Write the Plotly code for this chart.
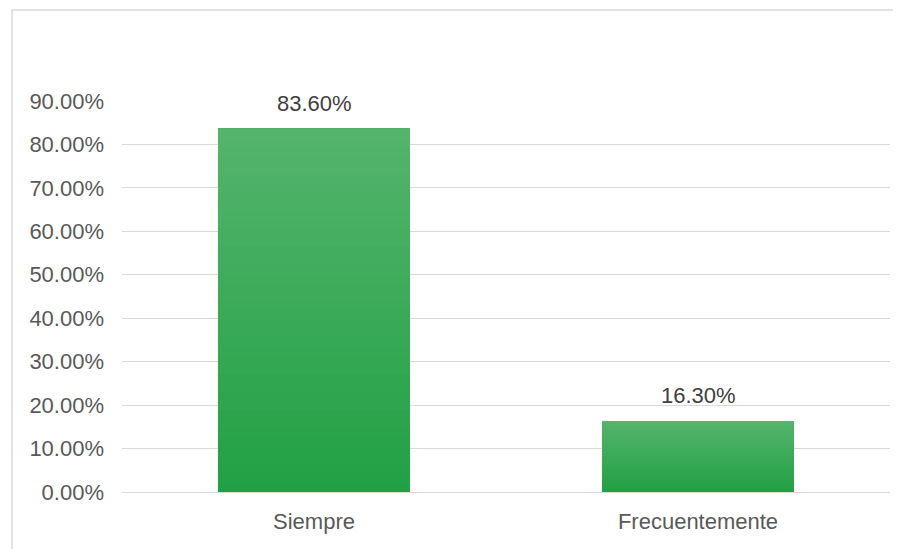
import plotly.graph_objects as go

categories = ["Siempre", "Frecuentemente"]
values = [0.836, 0.163]
tick_vals = [0, 0.1, 0.2, 0.3, 0.4, 0.5, 0.6, 0.7, 0.8, 0.9]
tick_text = ["0.00%", "10.00%", "20.00%", "30.00%", "40.00%", "50.00%",
             "60.00%", "70.00%", "80.00%", "90.00%"]
labels = ["83.60%", "16.30%"]

N_SLICES = 40
top_rgb = (84, 180, 108)
bot_rgb = (34, 160, 69)

fig = go.Figure()
for i in range(N_SLICES):
    t = i / (N_SLICES - 1)  # 0 bottom -> 1 top
    c = tuple(round(b + (tp - b) * t) for b, tp in zip(bot_rgb, top_rgb))
    fig.add_trace(go.Bar(
        x=categories,
        y=[v * (1 - i / N_SLICES) for v in values],
        base=[v * i / N_SLICES for v in values],
        width=0.5,
        marker=dict(color=f"rgb{c}", line=dict(width=0)),
        hoverinfo="skip",
        showlegend=False,
    ))

for cat, v, lab in zip(categories, values, labels):
    fig.add_annotation(x=cat, y=v, text=lab, showarrow=False,
                       yanchor="bottom", yshift=11,
                       font=dict(size=22, color="#404040", family="Liberation Sans, Arial"))

L, R, T, B = 114, 19, 93, 65
PW, PH = 901 - L - R, 549 - T - B

# outer chart frame
fig.add_shape(type="rect", xref="paper", yref="paper",
              x0=(4 - L) / PW, x1=(930 - L) / PW,
              y0=(PH + T - 580) / PH, y1=(PH + T - 2) / PH,
              line=dict(color="#d9d9d9", width=1.5), layer="below")

fig.update_layout(
    width=901, height=549,
    margin=dict(l=L, r=R, t=T, b=B),
    barmode="overlay",
    paper_bgcolor="white", plot_bgcolor="white",
    font=dict(family="Liberation Sans, Arial", size=22, color="#595959"),
    xaxis=dict(showgrid=False, showline=False, ticks="", ticklabelstandoff=14,
               tickfont=dict(size=22, color="#595959")),
    yaxis=dict(range=[0, 0.9], tickvals=tick_vals, ticktext=tick_text,
               showgrid=True, gridcolor="#d9d9d9", gridwidth=1,
               zeroline=True, zerolinecolor="#d9d9d9", zerolinewidth=1,
               showline=False, ticks="", ticklabelstandoff=17,
               tickfont=dict(size=22, color="#595959")),
)

fig.write_html("out.html")
